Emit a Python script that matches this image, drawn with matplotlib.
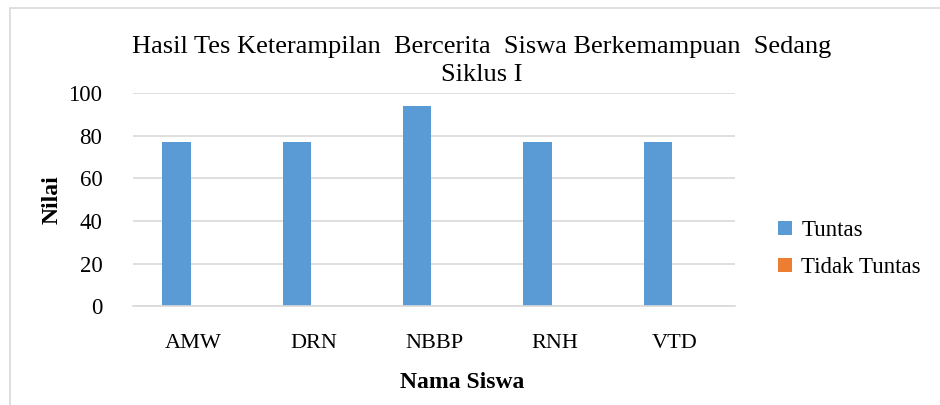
import matplotlib.pyplot as plt
import numpy as np
from matplotlib.patches import Rectangle

plt.rcParams['font.family'] = ['Liberation Serif', 'DejaVu Serif']

siswa = ["AMW", "DRN", "NBBP", "RNH", "VTD"]
tuntas = [77, 77, 94, 77, 77]
tidak_tuntas = [0, 0, 0, 0, 0]

fig = plt.figure(figsize=(9.4, 4.05), dpi=100)
ax = fig.add_axes([0.1415, 0.244, 0.6405, 0.526])

x = np.arange(len(siswa))
w = 0.235
ax.bar(x - 0.14, tuntas, w, color="#5b9bd5", label="Tuntas")
ax.bar(x + 0.10, tidak_tuntas, w, color="#ed7d31", label="Tidak Tuntas")

ax.set_xlim(-0.5, len(siswa) - 0.5)
ax.set_ylim(0, 100)
ax.set_yticks(range(0, 101, 20))
ax.set_xticks(x)
ax.set_xticklabels(siswa)
ax.tick_params(length=0, colors="black")
ax.tick_params(axis="x", pad=20, labelsize=16)
ax.tick_params(axis="y", pad=22, labelsize=16.5)
ax.grid(axis="y", color="#d9d9d9", linewidth=1.2)
ax.set_axisbelow(True)
for s in ["top", "right", "left"]:
    ax.spines[s].set_visible(False)
ax.spines["bottom"].set_color("#d9d9d9")
ax.spines["bottom"].set_linewidth(1.2)

ax.set_xlabel("Nama Siswa", fontsize=17, fontweight="bold", labelpad=12)
ax.xaxis.set_label_coords(0.546, -0.31)
ax.set_ylabel("Nilai", fontsize=17, fontweight="bold", labelpad=4)

fig.text(0.512, 0.885, "Hasil Tes Keterampilan  Bercerita  Siswa Berkemampuan  Sedang",
         ha="center", va="center", fontsize=19)
fig.text(0.512, 0.815, "Siklus I", ha="center", va="center", fontsize=19)

fig.legend(loc="center left", bbox_to_anchor=(0.806, 0.385), frameon=False,
           fontsize=16.5, handlelength=0.6, handleheight=0.6, handletextpad=0.4,
           labelspacing=0.7)

fig.patches.append(Rectangle((0.011, -0.1), 1.2, 1.08, transform=fig.transFigure,
                             fill=False, edgecolor="#d9d9d9", linewidth=1.2))

fig.savefig("out.png", dpi=100)
